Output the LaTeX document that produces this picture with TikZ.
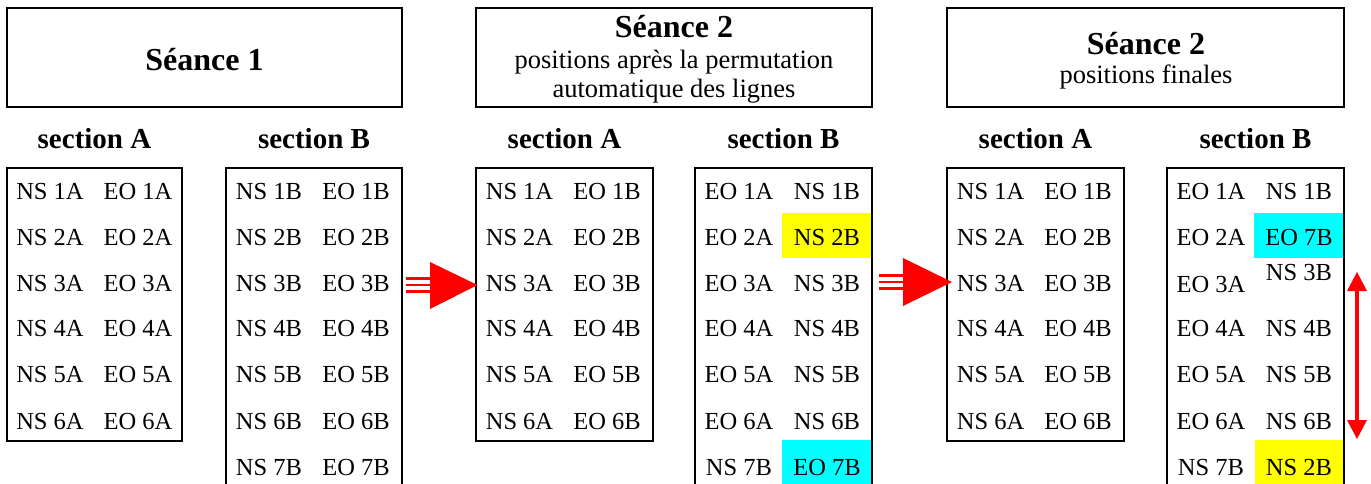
\documentclass[tikz,border=0pt]{standalone}
\usepackage{fontspec}
\setmainfont{Liberation Serif}
\definecolor{hlcyan}{RGB}{0,255,255}
\definecolor{hlyellow}{RGB}{255,255,0}
\definecolor{arred}{RGB}{255,0,0}
\begin{document}
\begin{tikzpicture}[x=1pt,y=-1pt,
  frame/.style={draw=black,line width=2pt},
  cell/.style={inner sep=0pt,anchor=center,font=\fontsize{24.5}{28}\selectfont},
  sect/.style={inner sep=0pt,anchor=base,font=\fontsize{29}{32}\selectfont\bfseries},
  ttl/.style={inner sep=0pt,anchor=base,font=\fontsize{32}{36}\selectfont\bfseries},
  sub/.style={inner sep=0pt,anchor=base,font=\fontsize{26.5}{30}\selectfont},
  stripe/.style={draw=arred,line width=2.4pt}]
\useasboundingbox (0,0) rectangle (1371,483);
\begin{scope}
\clip (0,0) rectangle (1371,483);
% title boxes
\draw[frame] (7,8) rectangle (402,107);
\draw[frame] (476,8) rectangle (872,107);
\draw[frame] (947,8) rectangle (1344,107);
\node[ttl] (t1) at (204.5,70) {Séance 1};
\node[ttl] (t2) at (674,37) {Séance 2};
\node[sub] (t2a) at (674,68) {positions après la permutation};
\node[sub] (t2b) at (674,97) {automatique des lignes};
\node[ttl] (t3) at (1146,54) {Séance 2};
\node[sub] (t3a) at (1146,83) {positions finales};
% section labels
\node[sect] (sA1) at (94.5,148) {section A};
\node[sect] (sB1) at (314,148) {section B};
\node[sect] (sA2) at (564.5,148) {section A};
\node[sect] (sB2) at (783.5,148) {section B};
\node[sect] (sA3) at (1035.5,148) {section A};
\node[sect] (sB3) at (1255.5,148) {section B};
% highlights
\fill[hlyellow] (782,213) rectangle (871,258);
\fill[hlcyan] (782,440) rectangle (871,490);
\fill[hlcyan] (1254,213) rectangle (1343,258);
\fill[hlyellow] (1255,440) rectangle (1343,490);
% boxes
\draw[frame] (7,168) rectangle (182,441);
\draw[frame] (226,490) -- (226,168) -- (402,168) -- (402,490);
\draw[frame] (476,168) rectangle (653,441);
\draw[frame] (695,490) -- (695,168) -- (872,168) -- (872,490);
\draw[frame] (947,168) rectangle (1124,441);
\draw[frame] (1167,490) -- (1167,168) -- (1344,168) -- (1344,490);
% rows
\foreach \i/\y in {1/192,2/238,3/283.5,4/329,5/375,6/421}{
  \node[cell] (a1n\i) at (50,\y) {NS \i A};
  \node[cell] (a1e\i) at (138,\y) {EO \i A};
  \node[cell] (a2n\i) at (519.5,\y) {NS \i A};
  \node[cell] (a2e\i) at (607,\y) {EO \i B};
  \node[cell] (a3n\i) at (990.5,\y) {NS \i A};
  \node[cell] (a3e\i) at (1078,\y) {EO \i B};
}
\foreach \i/\y in {1/192,2/238,3/283.5,4/329,5/375,6/421,7/467}{
  \node[cell] (b1n\i) at (269,\y) {NS \i B};
  \node[cell] (b1e\i) at (356,\y) {EO \i B};
}
\foreach \i/\y in {1/192,2/238,3/283.5,4/329,5/375,6/421}{
  \node[cell] (b2e\i) at (739,\y) {EO \i A};
}
\foreach \i/\y in {1/192,3/283.5,4/329,5/375,6/421}{
  \node[cell] (b2n\i) at (827,\y) {NS \i B};
}
\node[cell] (b2n2) at (827,238) {NS 2B};
\node[cell] (b2e7) at (739,467) {NS 7B};
\node[cell] (b2n7) at (827,467) {EO 7B};
\foreach \i/\y in {1/192,2/238,3/285,4/329,5/375,6/421}{
  \node[cell] (b3e\i) at (1211,\y) {EO \i A};
}
\foreach \i/\y in {1/192,4/329,5/375,6/421}{
  \node[cell] (b3n\i) at (1299,\y) {NS \i B};
}
\node[cell] (b3n2) at (1299,238) {EO 7B};
\node[cell] (b3n3) at (1299,273) {NS 3B};
\node[cell] (b3e7) at (1211,467) {NS 7B};
\node[cell] (b3n7) at (1299,467) {NS 2B};
\end{scope}
% big arrows
\coordinate (ar1s) at (406,285);
\coordinate (ar1t) at (477.5,285);
\foreach \d in {-6.5,0,6.5}{\draw[stripe] ([yshift=\d]ar1s) -- ++(26,0);}
\fill[arred] (430,262) -- (ar1t) -- (430,309) -- cycle;
\coordinate (ar2s) at (879,282);
\coordinate (ar2t) at (952,282);
\foreach \d in {-6.5,0,6.5}{\draw[stripe] ([yshift=\d]ar2s) -- ++(26,0);}
\fill[arred] (903,258) -- (ar2t) -- (903,306) -- cycle;
% swap arrow
\coordinate (sw1) at (1357,272);
\coordinate (sw2) at (1357,439);
\draw[arred,line width=4pt] (1357,288) -- (1357,423);
\fill[arred] (sw1) -- (1347,291) -- (1367,291) -- cycle;
\fill[arred] (sw2) -- (1347,420) -- (1367,420) -- cycle;
\end{tikzpicture}
\end{document}
